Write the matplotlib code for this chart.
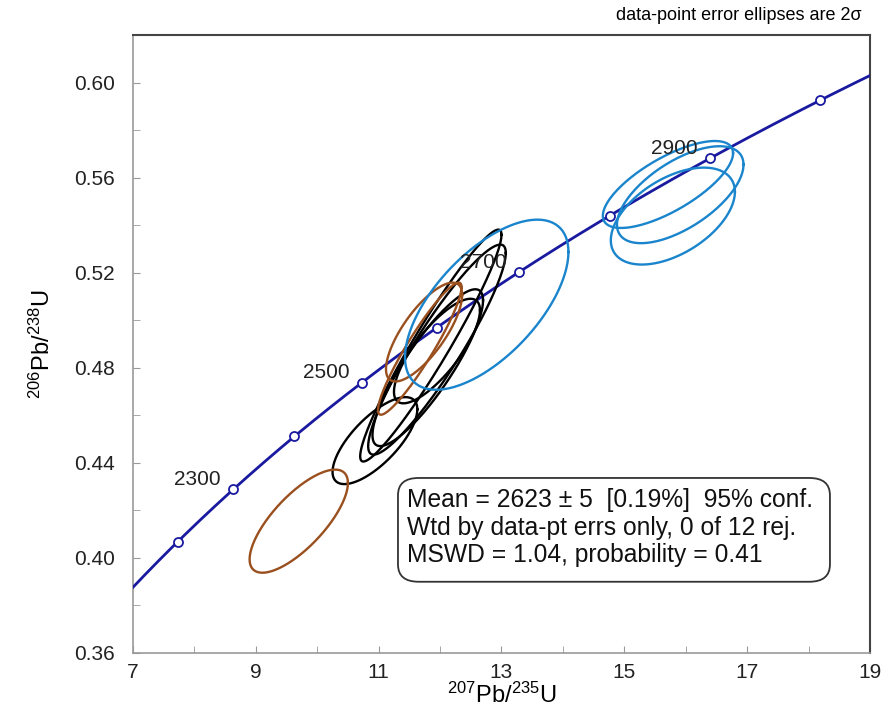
import numpy as np
import matplotlib.pyplot as plt
from matplotlib.patches import FancyBboxPatch

plt.rcParams['font.family'] = ['Liberation Sans', 'DejaVu Sans']
plt.rcParams['mathtext.fontset'] = 'custom'
plt.rcParams['mathtext.rm'] = 'Liberation Sans'
plt.rcParams['mathtext.it'] = 'Liberation Sans'

# decay constants (1/yr)
L238 = 1.55125e-10
L235 = 9.8485e-10

# concordia age markers (Ma) and which get labels
marker_ages = [2200, 2300, 2400, 2500, 2600, 2700, 2800, 2900, 3000]
label_ages = [2300, 2500, 2700, 2900]

# data-point ellipses: 207/235 centre, 206/238 centre, 2s x, 2s y, rho
blue_x = [12.76, 15.71, 15.91, 15.79]
blue_y = [0.5065, 0.5571, 0.5528, 0.5438]
blue_sx = [1.33, 1.06, 1.03, 1.01]
blue_sy = [0.0358, 0.0183, 0.0204, 0.0204]
blue_rho = [0.62, 0.72, 0.62, 0.50]

brown_x = [9.70, 11.74, 11.67]
brown_y = [0.4154, 0.4950, 0.4880]
brown_sx = [0.80, 0.62, 0.68]
brown_sy = [0.0217, 0.0208, 0.0278]
brown_rho = [0.74, 0.75, 0.93]

black_x = [11.85, 11.95, 11.80, 11.95, 10.94]
black_y = [0.4893, 0.4876, 0.4800, 0.4870, 0.4493]
black_sx = [1.15, 1.12, 0.90, 0.70, 0.69]
black_sy = [0.0488, 0.0442, 0.0330, 0.0220, 0.0183]
black_rho = [0.955, 0.92, 0.86, 0.78, 0.72]

summary = ["Mean = 2623 \u00b1 5  [0.19%]  95% conf.",
           "Wtd by data-pt errs only, 0 of 12 rej.",
           "MSWD = 1.04, probability = 0.41"]


def concordia(t_ma):
    t = np.asarray(t_ma) * 1e6
    return np.exp(L235 * t) - 1, np.exp(L238 * t) - 1


def ellipse(cx, cy, sx, sy, rho, n=200):
    t = np.linspace(0, 2 * np.pi, n)
    x = cx + sx * np.cos(t)
    y = cy + sy * (rho * np.cos(t) + np.sqrt(1 - rho ** 2) * np.sin(t))
    return x, y


fig = plt.figure(figsize=(8.86, 7.15), dpi=100)
ax = fig.add_axes([0.150, 0.087, 0.832, 0.864])

# concordia curve
cx, cy = concordia(np.linspace(2000, 3200, 400))
ax.plot(cx, cy, color="#1a1aa0", lw=2.0, zorder=3)

for xs, ys, sxs, sys_, rhos, col in [
        (black_x, black_y, black_sx, black_sy, black_rho, "black"),
        (brown_x, brown_y, brown_sx, brown_sy, brown_rho, "#9a4f1e"),
        (blue_x, blue_y, blue_sx, blue_sy, blue_rho, "#1a85cc")]:
    for i in range(len(xs)):
        ex, ey = ellipse(xs[i], ys[i], sxs[i], sys_[i], rhos[i])
        ax.plot(ex, ey, color=col, lw=1.7, zorder=4)

mx, my = concordia(marker_ages)
ax.plot(mx, my, 'o', ms=6.5, mfc="white", mec="#1a1aa0", mew=1.3, zorder=5)
lx, ly = concordia(label_ages)
for a, x, y in zip(label_ages, lx, ly):
    ax.annotate(str(a), (x, y), xytext=(-9, 7), textcoords="offset points",
                ha="right", va="center", fontsize=15, color="#222222",
                zorder=6)

ax.set_xlim(7, 19)
ax.set_ylim(0.36, 0.62)
ax.set_xticks(np.arange(7, 19.5, 2))
ax.set_xticks(np.arange(7, 19.5, 1), minor=True)
ax.set_yticks(np.arange(0.36, 0.605, 0.04))
ax.set_yticks(np.arange(0.36, 0.625, 0.02), minor=True)
ax.yaxis.set_major_formatter(plt.FormatStrFormatter('%.2f'))
ax.tick_params(which="both", direction="in", length=5, color="#999999",
               labelsize=15, labelcolor="#222222")
ax.tick_params(axis="y", pad=13)
ax.tick_params(axis="x", pad=7)

for s in ["left", "bottom"]:
    ax.spines[s].set_color("#999999")
    ax.spines[s].set_linewidth(1.2)
for s in ["top", "right"]:
    ax.spines[s].set_color("#444444")
    ax.spines[s].set_linewidth(1.5)

ax.set_xlabel(r"$^{207}$Pb/$^{235}$U", fontsize=17, labelpad=1)
ax.set_ylabel(r"$^{206}$Pb/$^{238}$U", fontsize=17, labelpad=14)

box = FancyBboxPatch((0.3596, 0.115), 0.586, 0.168,
                     boxstyle="round,pad=0,rounding_size=0.028",
                     transform=ax.transAxes, fc="white", ec="#333333",
                     lw=1.3, zorder=7)
ax.add_patch(box)
ax.text(0.372, 0.267, "\n".join(summary), transform=ax.transAxes,
        ha="left", va="top", fontsize=17.7, linespacing=1.2, color="#111111",
        zorder=8)

fig.text(0.973, 0.978, "data-point error ellipses are 2\u03c3", ha="right",
         va="center", fontsize=13)

fig.savefig("out.png", dpi=100)
